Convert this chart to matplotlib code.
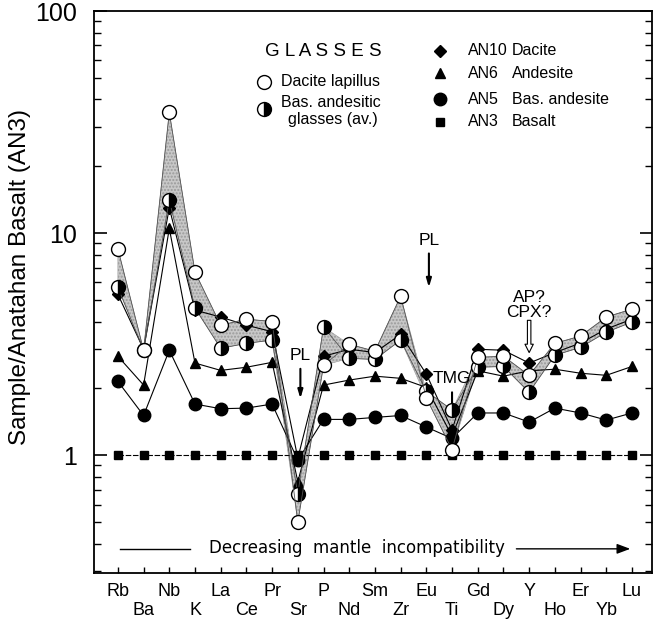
import numpy as np
import matplotlib
matplotlib.use('Agg')
import matplotlib.pyplot as plt

plt.rcParams['font.family'] = ['Liberation Sans', 'DejaVu Sans']

# Elements (x axis) and normalised concentrations (sample / AN3)
elements = ['Rb', 'Ba', 'Nb', 'K', 'La', 'Ce', 'Pr', 'Sr', 'P', 'Nd', 'Sm',
            'Zr', 'Eu', 'Ti', 'Gd', 'Dy', 'Y', 'Ho', 'Er', 'Yb', 'Lu']

an3_basalt = [1.0] * 21
an5_bas_andesite = [2.15, 1.51, 2.97, 1.70, 1.62, 1.63, 1.70, 0.95, 1.45, 1.45, 1.48,
                    1.51, 1.34, 1.19, 1.55, 1.55, 1.41, 1.63, 1.55, 1.44, 1.55]
an6_andesite = [2.79, 2.07, 10.5, 2.60, 2.41, 2.49, 2.62, 0.76, 2.07, 2.18, 2.27,
                2.22, 2.02, 1.22, 2.40, 2.27, 2.40, 2.44, 2.34, 2.29, 2.51]
an10_dacite = [5.3, 3.0, 13.0, 4.5, 4.19, 3.85, 3.6, 0.97, 2.79, 3.0, 2.9,
               3.5, 2.32, 1.30, 3.0, 2.97, 2.6, 2.9, 3.2, 3.7, 4.1]
dacite_lapillus = [8.5, 2.97, 35.0, 6.67, 3.85, 4.1, 4.0, 0.50, 2.54, 3.16, 2.94,
                   5.2, 1.81, 1.06, 2.76, 2.79, 2.29, 3.19, 3.44, 4.19, 4.55]
bas_andesitic_glass = [5.7, 2.97, 14.1, 4.6, 3.03, 3.19, 3.3, 0.67, 3.78, 2.73, 2.7,
                       3.3, 1.94, 1.60, 2.49, 2.51, 1.92, 2.82, 3.06, 3.58, 3.98]

x = np.arange(len(elements))

fig = plt.figure(figsize=(6.6, 6.19), dpi=100)
ax = fig.add_axes([0.1424, 0.0743, 0.8455, 0.9079])

# shaded field between the two glass patterns
lo = np.minimum(dacite_lapillus, bas_andesitic_glass)
hi = np.maximum(dacite_lapillus, bas_andesitic_glass)
ax.fill_between(x, lo, hi, facecolor='#c8c8c8', edgecolor='#9a9a9a',
                hatch='.....', linewidth=0.4, zorder=1)

ax.plot(x, an3_basalt, color='black', lw=0.8, ls=(0, (5, 1.5)), marker='s',
        ms=5.5, mfc='black', mec='black', zorder=3)
ax.plot(x, an5_bas_andesite, color='black', lw=0.8, marker='o', ms=9,
        mfc='black', mec='black', zorder=3)
ax.plot(x, an6_andesite, color='black', lw=0.8, marker='^', ms=7,
        mfc='black', mec='black', zorder=3)
ax.plot(x, an10_dacite, color='black', lw=0.8, marker='D', ms=6,
        mfc='black', mec='black', zorder=3)
ax.plot(x, bas_andesitic_glass, color='#555555', lw=0.6, marker='o', ms=10,
        fillstyle='right', mfc='black', mfcalt='white', mec='black', mew=1.0, zorder=4)
ax.plot(x, dacite_lapillus, color='#555555', lw=0.6, marker='o', ms=10,
        mfc='white', mec='black', mew=1.0, zorder=4)

ax.set_yscale('log')
ax.set_ylim(0.295, 100)
ax.set_xlim(-0.93, 20.78)
ax.set_yticks([1, 10, 100])
ax.set_yticklabels(['1', '10', '100'], fontsize=18)
ax.tick_params(axis='y', which='both', direction='in', right=True, labelright=False)
ax.tick_params(axis='y', which='major', length=9, width=1.2, pad=12)
ax.tick_params(axis='y', which='minor', length=5, width=1.0)
ax.yaxis.set_minor_formatter(matplotlib.ticker.NullFormatter())

ax.set_xticks(x)
ax.set_xticklabels([e if i % 2 == 0 else '\n' + e for i, e in enumerate(elements)],
                   fontsize=13)
ax.tick_params(axis='x', direction='in', length=4, width=1.0, pad=7, top=False)
for s in ax.spines.values():
    s.set_linewidth(1.3)

ax.set_ylabel('Sample/Anatahan Basalt (AN3)', fontsize=17.5)
ax.yaxis.set_label_coords(-0.112, 0.527)

# annotations
def down_arrow(xd, y0, y1, hollow=False):
    if hollow:
        ax.annotate('', xy=(xd, y1), xytext=(xd, y0),
                    arrowprops=dict(arrowstyle='simple,head_width=0.6,head_length=0.6,tail_width=0.25',
                                    fc='white', ec='black', lw=0.8, shrinkA=0, shrinkB=0))
    else:
        ax.annotate('', xy=(xd, y1), xytext=(xd, y0),
                    arrowprops=dict(arrowstyle='-|>,head_width=0.15,head_length=0.5',
                                    color='black', lw=1.5, shrinkA=0, shrinkB=0))

ax.text(7.1, 2.82, 'PL', fontsize=12.5, ha='center', va='center')
down_arrow(7.1, 2.45, 1.8)
ax.text(12.1, 9.3, 'PL', fontsize=12.5, ha='center', va='center')
down_arrow(12.1, 8.1, 5.7)
ax.text(13.0, 2.22, 'TMG', fontsize=12.5, ha='center', va='center')
down_arrow(13.0, 1.92, 1.44)
ax.text(16.0, 4.75, 'AP?\nCPX?', fontsize=12.5, ha='center', va='center', linespacing=0.95)
down_arrow(16.0, 4.05, 2.9, hollow=True)

# direction of decreasing incompatibility
ax.text(0.472, 0.044, 'Decreasing  mantle  incompatibility', transform=ax.transAxes,
        fontsize=12, ha='center', va='center', family=['DejaVu Sans'])
ax.plot([0.047, 0.172], [0.043, 0.043], transform=ax.transAxes, color='black', lw=1.0)
ax.annotate('', xy=(0.966, 0.043), xytext=(0.752, 0.043), xycoords='axes fraction',
            arrowprops=dict(arrowstyle='-|>,head_width=0.3,head_length=0.8',
                            color='black', lw=1.0))

# legend
ax.text(0.306, 0.928, 'G L A S S E S', transform=ax.transAxes, fontsize=13.5,
        ha='left', va='center')
ax.plot([0.305], [0.874], transform=ax.transAxes, marker='o', ms=10, mfc='white',
        mec='black', clip_on=False)
ax.text(0.335, 0.874, 'Dacite lapillus', transform=ax.transAxes, fontsize=11.5,
        ha='left', va='center')
ax.plot([0.305], [0.826], transform=ax.transAxes, marker='o', ms=10, fillstyle='right',
        mfc='black', mfcalt='white', mec='black', clip_on=False)
ax.text(0.335, 0.837, 'Bas. andesitic', transform=ax.transAxes, fontsize=11.5,
        ha='left', va='center')
ax.text(0.348, 0.807, 'glasses (av.)', transform=ax.transAxes, fontsize=11.5,
        ha='left', va='center')

rock_markers = [('D', 6, 'AN10', 'Dacite', 0.929), ('^', 7, 'AN6', 'Andesite', 0.889),
                ('o', 9, 'AN5', 'Bas. andesite', 0.843), ('s', 6, 'AN3', 'Basalt', 0.803)]
for m, ms, code, name, yy in rock_markers:
    ax.plot([0.62], [yy], transform=ax.transAxes, marker=m, ms=ms, color='black',
            clip_on=False)
    ax.text(0.67, yy, code, transform=ax.transAxes, fontsize=11.5, ha='left', va='center')
    ax.text(0.749, yy, name, transform=ax.transAxes, fontsize=11.5, ha='left', va='center')

fig.savefig('out.png', dpi=100)
